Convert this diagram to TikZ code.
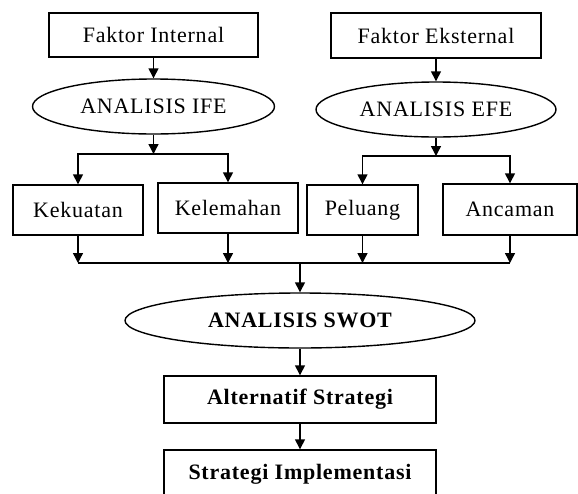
\documentclass[tikz,border=0pt]{standalone}
\usepackage{fontspec}
\setmainfont[LetterSpace=3.5]{Liberation Serif}
\usetikzlibrary{shapes.geometric,arrows.meta}

\begin{document}
\begin{tikzpicture}[x=0.5pt, y=-0.5pt, >={Triangle[length=5pt,width=5pt]}, line width=0.7pt,
  box/.style={draw, rectangle, inner sep=0pt, font=\fontsize{11}{13}\selectfont},
  oval/.style={draw, ellipse, inner sep=0pt, font=\fontsize{11}{13}\selectfont}]
  \useasboundingbox (0,0) rectangle (578,493);
  \node[box, minimum width=104.5pt, minimum height=22pt] (fi) at (153.5,35) {Faktor Internal};
  \node[box, minimum width=105pt, minimum height=22.5pt] (fe) at (436,35.5) {Faktor Eksternal};
  \node[oval, minimum width=121pt, minimum height=27.5pt] (ife) at (153.5,106.5) {ANALISIS IFE};
  \node[oval, minimum width=120pt, minimum height=27.5pt] (efe) at (436,109.5) {ANALISIS EFE};
  \coordinate (ifeb) at (153.5,154);
  \coordinate (efeb) at (436,156);
  \node[box, minimum width=65pt, minimum height=25pt] (kek) at (78,210) {Kekuatan};
  \node[box, minimum width=70pt, minimum height=25pt] (kel) at (228,208) {Kelemahan};
  \node[box, minimum width=55.5pt, minimum height=25pt] (pel) at (362.5,210) {Peluang};
  \node[box, minimum width=67pt, minimum height=25.5pt] (anc) at (510,209.5) {Ancaman};
  \coordinate (join) at (300,263);
  \node[oval, minimum width=175pt, minimum height=27.5pt, font=\fontsize{11}{13}\selectfont\bfseries] (swot) at (300,320.5) {ANALISIS SWOT};
  \node[box, minimum width=136pt, minimum height=23.5pt, font=\fontsize{11}{13}\selectfont\bfseries] (alt) at (300,399.5) {Alternatif Strategi};
  \node[box, minimum width=136pt, minimum height=24pt, font=\fontsize{11}{13}\selectfont\bfseries] (impl) at (300,474) {Strategi Implementasi};

  \draw[->] (fi) -- (ife);
  \draw[->] (fe) -- (efe);
  \draw[->] (ife) -- (ifeb);
  \draw[->] (efe) -- (efeb);
  \draw[->] (ifeb) -| (kek);
  \draw[->] (ifeb) -| (kel);
  \draw[->] (efeb) -| (pel);
  \draw[->] (efeb) -| (anc);
  \draw[->] (kek) -- (kek |- join);
  \draw[->] (kel) -- (kel |- join);
  \draw[->] (pel) -- (pel |- join);
  \draw[->] (anc) -- (anc |- join);
  \draw (kek |- join) -- (anc |- join);
  \draw[->] (join) -- (swot);
  \draw[->] (swot) -- (alt);
  \draw[->] (alt) -- (impl);
\end{tikzpicture}
\end{document}
